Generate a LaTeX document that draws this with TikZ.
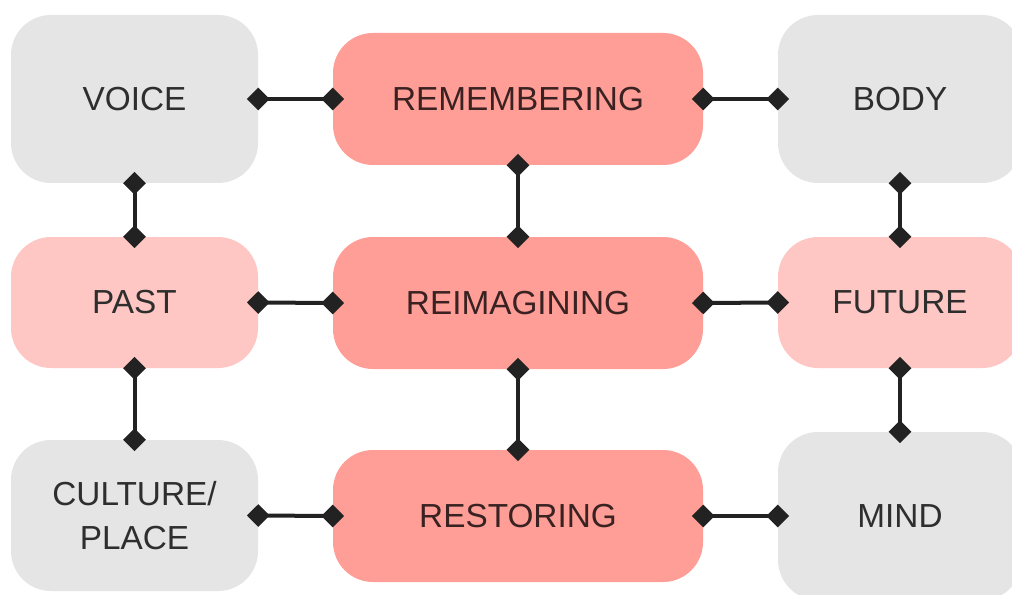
\documentclass[tikz,border=0pt]{standalone}
\usepackage{fontspec}
\setmainfont{Liberation Sans}
\usetikzlibrary{arrows.meta}
\definecolor{boxgray}{HTML}{E5E5E5}
\definecolor{boxpink}{HTML}{FFC7C3}
\definecolor{boxred}{HTML}{FF9E96}
\definecolor{ink}{HTML}{222222}
\definecolor{txtgray}{HTML}{2E2E2E}
\definecolor{txtred}{HTML}{3A2222}
\begin{document}
\begin{tikzpicture}[x=0.75pt,y=-0.75pt,
  box/.style={rounded corners=30pt, inner sep=0pt, font=\fontsize{25}{33}\selectfont, align=center},
  sidegray/.style={box, fill=boxgray, text=txtgray, minimum width=183pt},
  sidepink/.style={box, fill=boxpink, text=txtgray, minimum width=183pt},
  mid/.style={box, fill=boxred, text=txtred, minimum width=277.5pt, minimum height=99pt},
  link/.style={draw=ink, line width=3pt,
    {Diamond[length=17pt,width=17pt,line width=0pt]}-{Diamond[length=17pt,width=17pt,line width=0pt]},
    shorten <=-8.5pt, shorten >=-8.5pt}]
\clip (0,0) rectangle (1012,595);
\fill[white] (0,0) rectangle (1012,595);
% left column
\node[sidegray, minimum width=185.25pt, minimum height=126pt] (voice) at (134.5,99) {VOICE};
\node[sidepink, minimum width=185.25pt, minimum height=98.25pt] (past) at (134.5,302.5) {PAST};
\node[sidegray, minimum width=185.25pt, minimum height=113.25pt] (culture) at (134.5,515.5) {CULTURE/\\PLACE};
% middle column
\node[mid] (rem) at (518,99) {REMEMBERING};
\node[mid] (reim) at (518,303) {REIMAGINING};
\node[mid] (rest) at (518,516) {RESTORING};
% right column
\node[sidegray, minimum height=126pt] (body) at (900,99) {BODY};
\node[sidepink, minimum height=98.25pt] (future) at (900,302.5) {FUTURE};
\node[sidegray, minimum height=126pt] (mind) at (900,516) {MIND};
% connectors
\draw[link] (voice.east) -- (rem.west);
\draw[link] (rem.east) -- (body.west);
\draw[link] (past.east) -- (reim.west);
\draw[link] (reim.east) -- (future.west);
\draw[link] (culture.east) -- (rest.west);
\draw[link] (rest.east) -- (mind.west);
\draw[link] (voice.south) -- (past.north);
\draw[link] (past.south) -- (culture.north);
\draw[link] (rem.south) -- (reim.north);
\draw[link] (reim.south) -- (rest.north);
\draw[link] (body.south) -- (future.north);
\draw[link] (future.south) -- (mind.north);
\end{tikzpicture}
\end{document}
